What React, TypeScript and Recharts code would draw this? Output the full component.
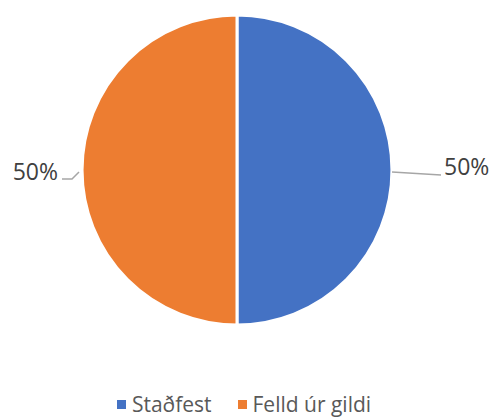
import { PieChart, Pie, Cell, Legend } from "recharts";

const categories = ["Staðfest", "Felld úr gildi"];
const shares = [50, 50];
const colors = ["#4472C4", "#ED7D31"];

const data = categories.map((name, i) => ({ name, value: shares[i] }));

const FONT = "'Open Sans', 'Liberation Sans', sans-serif";
const RAD = Math.PI / 180;

function renderLabel(props: any) {
  const { cx, cy, midAngle, outerRadius, percent } = props;
  const cos = Math.cos(-midAngle * RAD);
  const right = cos >= 0;
  const sx = cx + outerRadius * cos;
  const sy = cy + outerRadius * Math.sin(-midAngle * RAD);
  const text = `${Math.round(percent * 100)}%`;
  if (right) {
    return (
      <g>
        <polyline points={`${sx},${sy + 2} ${sx + 49},${sy + 5}`} stroke="#A6A6A6" strokeWidth={1.5} fill="none" />
        <text x={sx + 52} y={sy - 1} fill="#404040" fontSize={23} fontFamily={FONT} dominantBaseline="middle">{text}</text>
      </g>
    );
  }
  return (
    <g>
      <polyline points={`${sx - 3},${sy + 2} ${sx - 10},${sy + 9} ${sx - 20},${sy + 9}`} stroke="#A6A6A6" strokeWidth={1.5} fill="none" />
      <text x={sx - 24} y={sy + 4} fill="#404040" fontSize={23} fontFamily={FONT} textAnchor="end" dominantBaseline="middle">{text}</text>
    </g>
  );
}

function renderLegend() {
  return (
    <div style={{ display: "flex", justifyContent: "center", fontFamily: FONT, fontSize: 21, color: "#595959", paddingRight: 6 }}>
      {categories.map((c, i) => (
        <span key={c} style={{ display: "inline-flex", alignItems: "center", marginRight: i === 0 ? 26 : 0 }}>
          <span style={{ width: 9, height: 9, background: colors[i], marginRight: 6, display: "inline-block" }} />
          {c}
        </span>
      ))}
    </div>
  );
}

export default function App() {
  return (
    <div style={{ position: "absolute", left: 0, top: 0, background: "#fff" }}>
      <PieChart width={494} height={417} margin={{ top: 0, right: 0, bottom: 0, left: 0 }}>
        <Pie
          data={data}
          dataKey="value"
          nameKey="name"
          cx={237}
          cy={170}
          outerRadius={155}
          startAngle={90}
          endAngle={-270}
          stroke="#fff"
          strokeWidth={3}
          label={renderLabel}
          labelLine={false}
          isAnimationActive={false}
        >
          {data.map((d, i) => (
            <Cell key={d.name} fill={colors[i]} />
          ))}
        </Pie>
        <Legend verticalAlign="bottom" content={renderLegend} wrapperStyle={{ bottom: -1 }} />
      </PieChart>
    </div>
  );
}
